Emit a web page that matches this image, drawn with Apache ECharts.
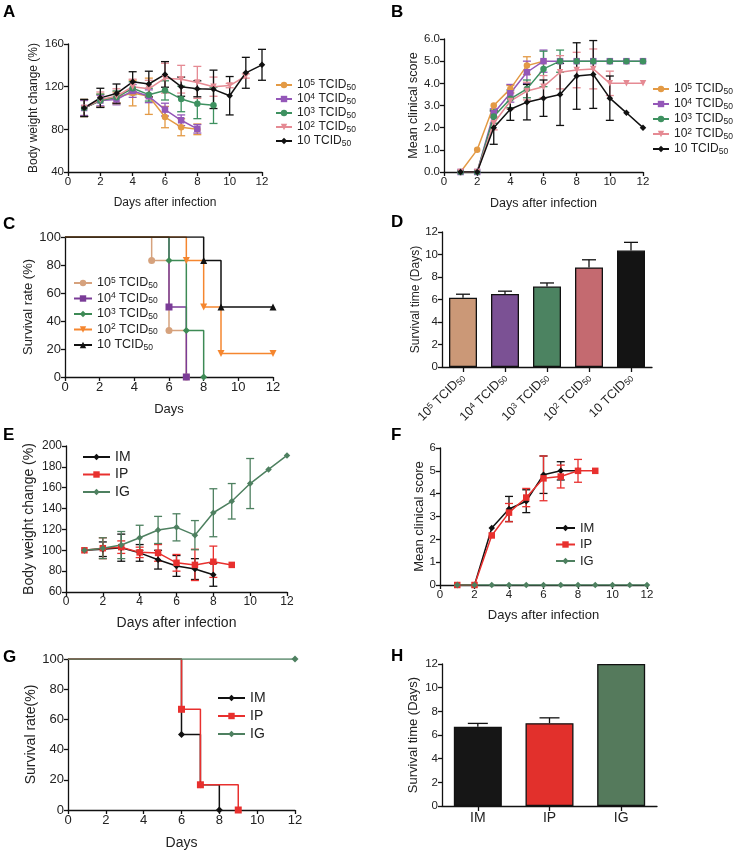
<!DOCTYPE html>
<html>
<head>
<meta charset="utf-8">
<script src="https://cdn.jsdelivr.net/npm/echarts@6/dist/echarts.min.js"></script>
<style>
  html, body { margin: 0; padding: 0; background: #fff; }
  #main { width: 748px; height: 861px; }
</style>
</head>
<body>
<div id="main"></div>
<script>
// ---- data ----
const days = [1, 2, 3, 4, 5, 6, 7, 8, 9, 10, 11, 12];
const doseExp = [5, 4, 3, 2, 1];           // 10^5 ... 10 TCID50
const routes = ['IM', 'IP', 'IG'];

// A: body weight change (%) by dose, mean / SD
const wtMean = [
  [100, 107, 110, 114, 111, 91.5, 82, 80],
  [100, 107, 108, 116, 111, 98.5, 88.5, 80.5],
  [100, 107, 110, 118.5, 112.5, 116.5, 108.5, 104, 102.5],
  [100, 108, 111, 120, 118, 128, 127, 124, 120, 121, 130],
  [100, 109.5, 113.5, 124.5, 122.5, 131.5, 120, 118, 117.5, 111.5, 133, 140.5]
];
const wtErr = [
  [8, 6, 5, 12, 17, 10, 8, 5],
  [7, 5, 5, 6, 6, 6, 5, 4],
  [8, 6, 6, 6, 6, 9, 12, 14, 17],
  [8, 7, 7, 7, 8, 14, 13, 15, 9, 2, 2],
  [8, 9, 9, 9.5, 12, 12, 9, 7.5, 18, 18, 14.5, 14.5]
];

// B: mean clinical score by dose
const scoreMean = [
  [0, 1, 3, 3.75, 4.8, 5],
  [0, 0, 2.65, 3.55, 4.5, 5, 5, 5, 5, 5, 5, 5],
  [0, 0, 2.5, 3.3, 3.75, 4.65, 5, 5, 5, 5, 5, 5],
  [0, 0, 2.2, 3.2, 3.65, 3.85, 4.5, 4.6, 4.65, 4, 4, 4],
  [0, 0, 2, 2.83, 3.15, 3.33, 3.5, 4.33, 4.4, 3.33, 2.67, 2]
];
const scoreErr = [
  [0, 0, 0, 0.15, 0.4, 0],
  [0, 0, 0.2, 0.4, 0.5, 0.5, 0, 0, 0, 0, 0, 0],
  [0, 0, 0.3, 0.4, 0.4, 0.8, 0.5, 0, 0, 0, 0, 0],
  [0, 0, 0.3, 0.35, 0.4, 0.5, 0.75, 0.8, 0.9, 0.55, 0, 0],
  [0, 0, 0.75, 0.5, 0.8, 0.82, 1.4, 1.5, 1.53, 1.0, 0, 0]
];

// C: survival (%) by dose, Kaplan-Meier steps [day, percent]
const survDose = [
  [[0, 100], [5, 83.3], [6, 33.3], [7, 0]],
  [[0, 100], [6, 50], [7, 0]],
  [[0, 100], [6, 83.3], [7, 33.3], [8, 0]],
  [[0, 100], [7, 83.3], [8, 50], [9, 16.7], [12, 16.7]],
  [[0, 100], [8, 83.3], [9, 50], [12, 50]]
];

// D: survival time (days) by dose
const survTimeMean = [6.15, 6.5, 7.15, 8.85, 10.35];
const survTimeErr = [0.32, 0.24, 0.32, 0.68, 0.73];

// E: body weight change (%) by route
const wtRouteMean = [
  [100, 101, 102.5, 97.5, 91, 85, 82, 76.5],
  [100, 102, 103, 98, 97.5, 88, 86, 89, 86],
  [100, 102, 105, 112, 119.5, 122, 114.5, 136, 147, 164, 177.5, 191]
];
const wtRouteErr = [
  [0, 7, 13, 8, 9, 10, 10, 11],
  [0, 10, 6, 5, 8, 8, 15, 15, 0],
  [0, 10, 13, 12, 13, 13, 14, 23, 17, 24, 0, 0]
];

// F: mean clinical score by route
const scoreRouteMean = [
  [0, 0, 2.5, 3.33, 3.67, 4.83, 5, 5],
  [0, 0, 2.17, 3.17, 3.83, 4.67, 4.75, 5, 5],
  [0, 0, 0, 0, 0, 0, 0, 0, 0, 0, 0, 0]
];
const scoreRouteErr = [
  [0, 0, 0, 0.55, 0.5, 0.82, 0.4, 0],
  [0, 0, 0, 0.4, 0.4, 0.98, 0.5, 0.5, 0],
  [0, 0, 0, 0, 0, 0, 0, 0, 0, 0, 0, 0]
];

// G: survival (%) by route
const survRoute = [
  [[0, 100], [6, 50], [7, 16.7], [8, 0]],
  [[0, 100], [6, 66.7], [7, 16.7], [9, 0]],
  [[0, 100], [12, 100]]
];

// H: survival time (days) by route
const survTimeRouteMean = [6.7, 7.0, 12];
const survTimeRouteErr = [0.28, 0.45, 0];

// ---- styling ----
const FONT = 'Liberation Sans, Arial, Helvetica, sans-serif';
const colA = ['#E39A45', '#9457B8', '#3E9160', '#E58A93', '#111111'];
const colC = ['#D6A27D', '#7A3C97', '#3D8A55', '#F5862F', '#111111'];
const colD = ['#CB9877', '#7B5194', '#4C8361', '#C46A70', '#141414'];
const colR = ['#111111', '#E8302E', '#4E8060'];
const colH = ['#161616', '#E2302C', '#557A5C'];
const symA = [['circle', 0], ['rect', 0], ['circle', 0], ['triangle', 180], ['diamond', 0]];
const symC = [['circle', 0], ['rect', 0], ['diamond', 0], ['triangle', 180], ['triangle', 0]];
const symR = [['diamond', 0], ['rect', 0], ['diamond', 0]];

const richSS = {
  sup: { fontSize: 8.5, verticalAlign: 'top', lineHeight: 9, fontFamily: FONT, color: '#222' },
  sub: { fontSize: 8.5, verticalAlign: 'bottom', lineHeight: 9, fontFamily: FONT, color: '#222' }
};
function doseLabel(e) {
  return e === 1 ? '10 TCID{sub|50}' : '10{sup|' + e + '} TCID{sub|50}';
}
function legendName(name) {
  const parts = name.split('|');
  const i = +parts[1];
  return parts[0] <= 'D' ? doseLabel(doseExp[i]) : routes[i];
}

function valueAxis(gi, min, max, interval, extra) {
  return Object.assign({
    type: 'value', gridIndex: gi, min: min, max: max, interval: interval,
    axisLine: { show: true, onZero: false, lineStyle: { color: '#111', width: 1.3 } },
    axisTick: { show: true, length: 4, lineStyle: { color: '#111', width: 1.3 } },
    axisLabel: { color: '#222', fontSize: 11.5, margin: 4, fontFamily: FONT },
    splitLine: { show: false },
    nameLocation: 'middle',
    nameTextStyle: { color: '#222', fontSize: 12, fontFamily: FONT }
  }, extra || {});
}

function errBars(gi, pts, color, cap, upOnly) {
  return {
    type: 'custom', xAxisIndex: gi, yAxisIndex: gi, silent: true, z: 3,
    data: pts, encode: { x: 0, y: [1, 2] },
    renderItem: function (params, api) {
      const x = api.value(0);
      const lo = api.coord([x, api.value(1)]);
      const hi = api.coord([x, api.value(2)]);
      const st = { stroke: color, lineWidth: 1.3 };
      const kids = [
        { type: 'line', shape: { x1: lo[0], y1: lo[1], x2: hi[0], y2: hi[1] }, style: st },
        { type: 'line', shape: { x1: hi[0] - cap, y1: hi[1], x2: hi[0] + cap, y2: hi[1] }, style: st }
      ];
      if (!upOnly) kids.push({ type: 'line', shape: { x1: lo[0] - cap, y1: lo[1], x2: lo[0] + cap, y2: lo[1] }, style: st });
      return { type: 'group', children: kids };
    }
  };
}

function meanLine(name, gi, mean, color, sym) {
  return {
    type: 'line', name: name, xAxisIndex: gi, yAxisIndex: gi, z: 4,
    data: mean.map((v, k) => [days[k], v]),
    symbol: sym[0], symbolRotate: sym[1], symbolSize: 6.5, showAllSymbol: true,
    lineStyle: { color: color, width: 1.5 }, itemStyle: { color: color }
  };
}
function meanErr(gi, mean, err, color) {
  const pts = [];
  mean.forEach((v, k) => { if (err[k]) pts.push([days[k], v - err[k], v + err[k]]); });
  return errBars(gi, pts, color, 4, false);
}
function kmLine(name, gi, pts, color, sym) {
  return {
    type: 'line', name: name, xAxisIndex: gi, yAxisIndex: gi, step: 'end', z: 4,
    data: pts.map((p, k) => k === 0 ? { value: p, symbol: 'none' } : p),
    symbol: sym[0], symbolRotate: sym[1], symbolSize: 7, showAllSymbol: true,
    lineStyle: { color: color, width: 1.5 }, itemStyle: { color: color }
  };
}

const series = [];
doseExp.forEach((e, i) => {
  series.push(meanErr(0, wtMean[i], wtErr[i], colA[i]));
  series.push(meanLine('A|' + i, 0, wtMean[i], colA[i], symA[i]));
  series.push(meanErr(1, scoreMean[i], scoreErr[i], colA[i]));
  series.push(meanLine('B|' + i, 1, scoreMean[i], colA[i], symA[i]));
  series.push(kmLine('C|' + i, 2, survDose[i], colC[i], symC[i]));
});
series.push({
  type: 'bar', xAxisIndex: 3, yAxisIndex: 3, barWidth: 28, z: 2,
  data: survTimeMean.map((v, i) => ({ value: v, itemStyle: { color: colD[i] } })),
  itemStyle: { borderColor: '#111', borderWidth: 1.3 }
});
series.push(errBars(3, survTimeMean.map((v, i) => [i, v, v + survTimeErr[i]]), '#111', 7, true));
routes.forEach((r, i) => {
  series.push(meanErr(4, wtRouteMean[i], wtRouteErr[i], colR[i]));
  series.push(meanLine('E|' + i, 4, wtRouteMean[i], colR[i], symR[i]));
  series.push(meanErr(5, scoreRouteMean[i], scoreRouteErr[i], colR[i]));
  series.push(meanLine('F|' + i, 5, scoreRouteMean[i], colR[i], symR[i]));
  series.push(kmLine('G|' + i, 6, survRoute[i], colR[i], symR[i]));
});
series.push({
  type: 'bar', xAxisIndex: 7, yAxisIndex: 7, barWidth: 48, z: 2,
  data: survTimeRouteMean.map((v, i) => ({ value: v, itemStyle: { color: colH[i] } })),
  itemStyle: { borderColor: '#111', borderWidth: 1.3 }
});
series.push(errBars(7, survTimeRouteMean.map((v, i) => [i, v, v + survTimeRouteErr[i]]).filter((d, i) => survTimeRouteErr[i] > 0), '#111', 10, true));

function legend(prefix, n, left, top, fontSize, gap, iw) {
  const names = [];
  for (let i = 0; i < n; i++) names.push(prefix + '|' + i);
  return {
    data: names, orient: 'vertical', left: left, top: top, padding: 0,
    itemWidth: iw, itemHeight: 8, itemGap: gap, selectedMode: false,
    formatter: legendName,
    textStyle: { fontSize: fontSize, fontFamily: FONT, color: '#222', lineHeight: 14, rich: richSS }
  };
}

const grids = [
  { left: 68, top: 44, width: 194, height: 128 },
  { left: 444, top: 39, width: 199, height: 133 },
  { left: 65, top: 237, width: 208, height: 140 },
  { left: 442, top: 232, width: 210, height: 135 },
  { left: 66, top: 446, width: 221, height: 146 },
  { left: 440, top: 448, width: 207, height: 137 },
  { left: 68, top: 659, width: 227, height: 151 },
  { left: 442, top: 664, width: 215, height: 142 }
];

const dayAxis = (gi, name, gap, fs, lfs) => valueAxis(gi, 0, 12, 2, {
  name: name, nameGap: gap,
  nameTextStyle: { color: '#222', fontSize: fs, fontFamily: FONT },
  axisLabel: { color: '#222', fontSize: lfs, margin: 4, fontFamily: FONT }
});
const catAxis = (gi, cats, labelOpt) => ({
  type: 'category', gridIndex: gi, data: cats,
  axisLine: { show: true, lineStyle: { color: '#111', width: 1.3 } },
  axisTick: { show: true, length: 5, alignWithLabel: true, lineStyle: { color: '#111', width: 1.3 } },
  axisLabel: labelOpt, splitLine: { show: false }
});
const yName = (name, gap, fs) => ({ name: name, nameGap: gap, nameTextStyle: { color: '#222', fontSize: fs, fontFamily: FONT } });

const option = {
  animation: false,
  backgroundColor: '#fff',
  textStyle: { fontFamily: FONT },
  title: [['A', 3, 4], ['B', 391, 4], ['C', 3, 216], ['D', 391, 214], ['E', 3, 427], ['F', 391, 427], ['G', 3, 649], ['H', 391, 648]]
    .map(t => ({ text: t[0], left: t[1], top: t[2], padding: 0, textStyle: { fontSize: 17, fontWeight: 'bold', color: '#000', fontFamily: FONT } })),
  grid: grids,
  legend: [
    legend('A', 5, 275, 78, 12, 0, 16),
    legend('B', 5, 652, 82, 12, 1, 16),
    legend('C', 5, 73, 276, 12.5, 1.5, 18),
    legend('E', 3, 82, 450, 14, 3.5, 27),
    legend('F', 3, 555, 521, 13, 2.5, 19),
    legend('G', 3, 217, 691, 14, 4, 27)
  ],
  xAxis: [
    dayAxis(0, 'Days after infection', 25, 12, 11.5),
    dayAxis(1, 'Days after infection', 25, 12.5, 11.5),
    dayAxis(2, 'Days', 26, 13, 13),
    catAxis(3, doseExp.map(String), {
      rotate: 45, margin: 9, fontSize: 12.5, color: '#222', fontFamily: FONT, rich: richSS,
      formatter: (v, i) => doseLabel(doseExp[i])
    }),
    dayAxis(4, 'Days after infection', 24, 14, 12),
    dayAxis(5, 'Days after infection', 24, 13, 11.5),
    dayAxis(6, 'Days', 26, 14, 13),
    catAxis(7, routes, { fontSize: 14, margin: 5, color: '#222', fontFamily: FONT })
  ],
  yAxis: [
    valueAxis(0, 40, 160, 40, yName('Body weight change (%)', 28, 12)),
    valueAxis(1, 0, 6, 1, Object.assign(yName('Mean clinical score', 22, 12.5), {
      axisLabel: { color: '#222', fontSize: 11.5, margin: 4, fontFamily: FONT, formatter: v => v.toFixed(1) }
    })),
    valueAxis(2, 0, 100, 20, Object.assign(yName('Survival rate (%)', 27, 13), {
      axisLabel: { color: '#222', fontSize: 13, margin: 4, fontFamily: FONT }
    })),
    valueAxis(3, 0, 12, 2, yName('Survival time (Days)', 13, 12)),
    valueAxis(4, 60, 200, 20, Object.assign(yName('Body weight change (%)', 30, 14), {
      axisLabel: { color: '#222', fontSize: 12, margin: 4, fontFamily: FONT }
    })),
    valueAxis(5, 0, 6, 1, yName('Mean clinical score', 14, 13)),
    valueAxis(6, 0, 100, 20, Object.assign(yName('Survival rate(%)', 30, 14), {
      axisLabel: { color: '#222', fontSize: 13, margin: 4, fontFamily: FONT }
    })),
    valueAxis(7, 0, 12, 2, yName('Survival time (Days)', 22, 13))
  ],
  series: series
};

const chart = echarts.init(document.getElementById('main'), null, { renderer: 'canvas' });
chart.setOption(option);
</script>
</body>
</html>
